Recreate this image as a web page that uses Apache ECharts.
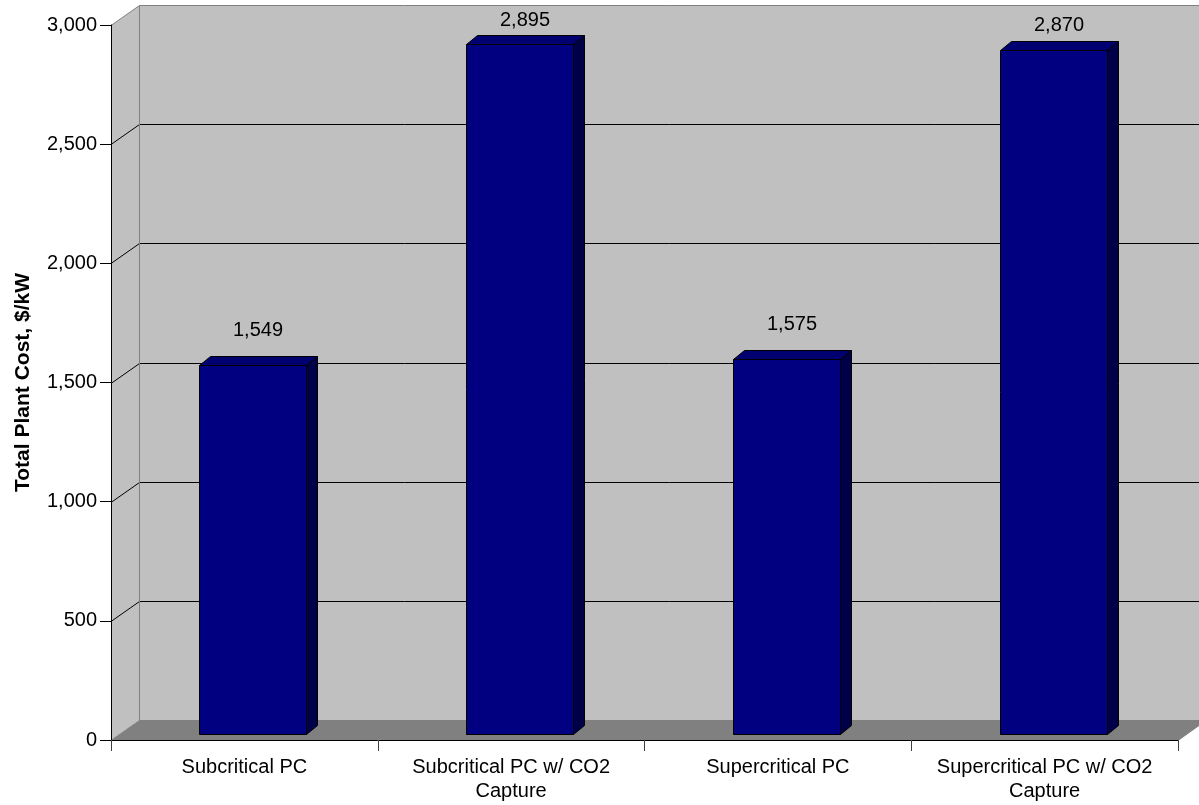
<!DOCTYPE html>
<html>
<head>
<meta charset="utf-8">
<script src="https://cdn.jsdelivr.net/npm/echarts@6/dist/echarts.min.js"></script>
<style>
html,body{margin:0;padding:0;background:#fff;}
#chart{width:1199px;height:805px;}
</style>
</head>
<body>
<div id="chart"></div>
<script>
// ---- data ----
const categories = ['Subcritical PC', 'Subcritical PC w/ CO2\nCapture', 'Supercritical PC', 'Supercritical PC w/ CO2\nCapture'];
const totalPlantCost = [1549, 2895, 1575, 2870];
const yTicks = [0, 500, 1000, 1500, 2000, 2500, 3000];
const yAxisTitle = 'Total Plant Cost, $/kW';

// ---- style constants ----
const FONT = '"Liberation Sans", Arial, sans-serif';
const DEPTH_X = 28, DEPTH_Y = 20;      // back wall offset
const BAR_SHIFT_X = 8.4, BAR_SHIFT_Y = 6; // bar front plane offset from front axis
const BAR_DX = 11, BAR_DY = 9;         // bar depth
const GRID = {left: 111, top: 25, width: 1067, height: 715};

const fmt = v => Number(v).toLocaleString('en-US');
const crisp = v => Math.round(v) + 0.5;

const chart = echarts.init(document.getElementById('chart'), null, {renderer: 'canvas'});

chart.setOption({
  animation: false,
  backgroundColor: '#ffffff',
  grid: GRID,
  xAxis: {
    type: 'category',
    data: categories,
    boundaryGap: true,
    z: 5,
    axisLine: {show: true, lineStyle: {color: '#000', width: 1}},
    axisTick: {show: true, length: 11, alignWithLabel: false, lineStyle: {color: '#404040'}},
    axisLabel: {interval: 0, fontFamily: FONT, fontSize: 20, color: '#000', lineHeight: 24, margin: 15},
    splitLine: {show: false}
  },
  yAxis: {
    type: 'value',
    min: yTicks[0],
    max: yTicks[yTicks.length - 1],
    interval: yTicks[1] - yTicks[0],
    z: 5,
    name: yAxisTitle,
    nameLocation: 'middle',
    nameGap: 77,
    nameRotate: 90,
    nameTextStyle: {fontFamily: FONT, fontSize: 21, fontWeight: 'bold', color: '#000'},
    axisLine: {show: true, lineStyle: {color: '#000', width: 1}},
    axisTick: {show: true, length: 11, lineStyle: {color: '#000'}},
    axisLabel: {fontFamily: FONT, fontSize: 20, color: '#000', margin: 14, formatter: fmt},
    splitLine: {show: false}
  },
  series: [{
    type: 'custom',
    z: 3,
    data: totalPlantCost.map((v, i) => [i, v]),
    encode: {x: 0, y: 1},
    renderItem: function (params, api) {
      const i = api.value(0), v = api.value(1);
      const topPt = api.coord([i, v]);
      const basePt = api.coord([i, 0]);
      const band = api.size([1, 0])[0];
      const w = Math.round(band * 0.4);
      const L = crisp(topPt[0] - w / 2 + BAR_SHIFT_X), R = L + w;
      const T = crisp(topPt[1] - BAR_SHIFT_Y), B = crisp(basePt[1] - BAR_SHIFT_Y);
      const stroke = {stroke: '#000', lineWidth: 1};
      const gap = 23 + 0.033 * T;
      return {
        type: 'group',
        children: [
          {type: 'polygon', shape: {points: [[R, T], [R + BAR_DX, T - BAR_DY], [R + BAR_DX, B - BAR_DY], [R, B]]},
            style: Object.assign({fill: '#000048'}, stroke)},
          {type: 'polygon', shape: {points: [[L, T], [L + BAR_DX, T - BAR_DY], [R + BAR_DX, T - BAR_DY], [R, T]]},
            style: Object.assign({fill: '#000070'}, stroke)},
          {type: 'rect', shape: {x: L, y: T, width: w, height: B - T},
            style: Object.assign({fill: '#000080'}, stroke)},
          {type: 'text', x: (L + R) / 2 + 5, y: T - gap,
            style: {text: fmt(v), fontFamily: FONT, fontSize: 20, fill: '#000', align: 'center', verticalAlign: 'middle'}}
        ]
      };
    }
  }]
});

// ---- 3D walls & floor, positioned through the y axis scale ----
function buildWalls() {
  const x0 = GRID.left, x1 = GRID.left + GRID.width;
  const yOf = v => crisp(chart.convertToPixel({yAxisIndex: 0}, v));
  const yTop = yOf(yTicks[yTicks.length - 1]);
  const yBot = yOf(yTicks[0]);
  const bx = crisp(x0 + DEPTH_X);
  const g = [];
  // back wall
  g.push({type: 'rect', z: 1, shape: {x: bx, y: yTop - DEPTH_Y, width: GRID.width + 40, height: yBot - yTop},
    style: {fill: '#C0C0C0'}});
  // side wall
  g.push({type: 'polygon', z: 1, shape: {points: [[x0, yTop], [bx, yTop - DEPTH_Y], [bx, yBot - DEPTH_Y], [x0, yBot]]},
    style: {fill: '#C0C0C0'}});
  // floor
  g.push({type: 'polygon', z: 1, shape: {points: [[x0, yBot], [x1, yBot], [x1 + DEPTH_X, yBot - DEPTH_Y], [bx, yBot - DEPTH_Y]]},
    style: {fill: '#808080'}});
  // gridlines (inner ticks)
  yTicks.slice(1, -1).forEach(t => {
    const y = yOf(t);
    g.push({type: 'polyline', z: 2, shape: {points: [[x0, y], [bx, y - DEPTH_Y], [x1 + DEPTH_X + 40, y - DEPTH_Y]]},
      style: {stroke: '#000', lineWidth: 1, fill: null}});
  });
  // borders
  const gray = {stroke: '#808080', lineWidth: 1, fill: null};
  g.push({type: 'polyline', z: 2, shape: {points: [[x0, yTop], [bx, yTop - DEPTH_Y], [x1 + DEPTH_X + 40, yTop - DEPTH_Y]]}, style: gray});
  g.push({type: 'line', z: 2, shape: {x1: bx, y1: yTop - DEPTH_Y, x2: bx, y2: yBot - DEPTH_Y}, style: gray});
  g.push({type: 'polyline', z: 2, shape: {points: [[x0, yBot], [bx, yBot - DEPTH_Y], [x1 + DEPTH_X + 40, yBot - DEPTH_Y]]}, style: gray});
  g.push({type: 'line', z: 2, shape: {x1: x1, y1: yBot, x2: x1 + DEPTH_X, y2: yBot - DEPTH_Y}, style: gray});
  chart.setOption({graphic: g});
}
buildWalls();
</script>
</body>
</html>
